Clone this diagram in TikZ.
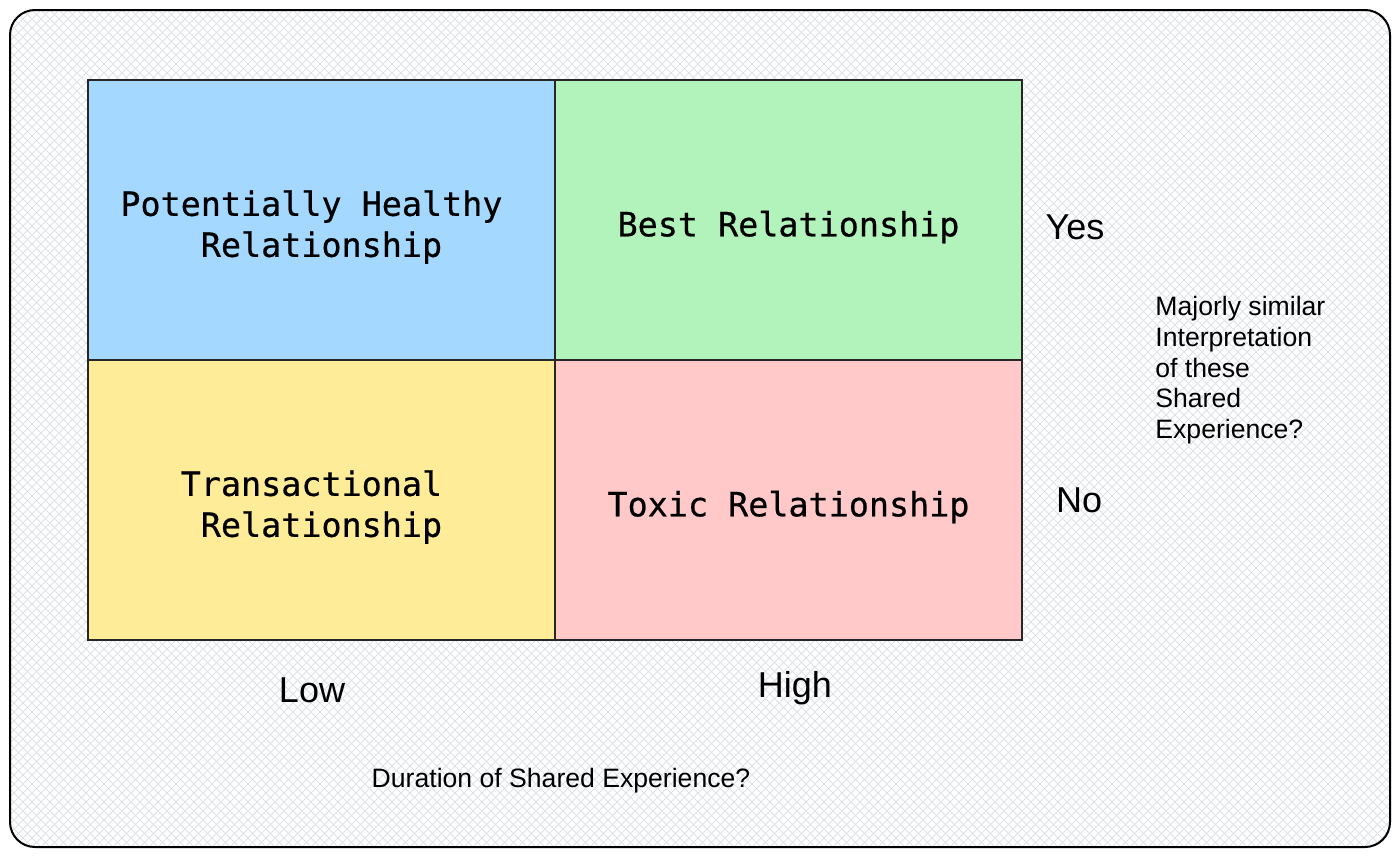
\documentclass[tikz,border=0pt]{standalone}
\usepackage{fontspec}
\setmainfont{Liberation Sans}
\newfontfamily\monofont[FakeBold=0.6]{DejaVu Sans Mono}
\usetikzlibrary{positioning}

\definecolor{cellblue}{HTML}{A5D8FF}
\definecolor{cellgreen}{HTML}{B2F2BB}
\definecolor{cellyellow}{HTML}{FFEC99}
\definecolor{cellred}{HTML}{FFC9C9}
\definecolor{hatch}{HTML}{DFE2E6}
\def\cellstrut{\rule{0pt}{19.8pt}}

\begin{document}
\begin{tikzpicture}[x=0.5pt,y=-0.5pt,
  cell/.style={draw=black!85,line width=1pt,fill=#1,minimum width=233.5pt,
    minimum height=140pt,inner sep=0pt,outer sep=0pt,align=center,
    font=\monofont\fontsize{16.7}{20.5}\selectfont},
  axis/.style={font=\fontsize{18}{21}\selectfont},
  note/.style={font=\fontsize{13.3}{15.35}\selectfont,align=left,inner sep=0pt}]
\useasboundingbox (0,0) rectangle (1400,857);
% Frame with a cross-hatched paper background
\begin{scope}
  \clip[rounded corners=12.5pt] (10,10) rectangle (1390,847);
  \fill[white] (0,0) rectangle (1400,857);
  \foreach \i in {-860,-851,...,1400} {
    \draw[hatch,line width=0.45pt] (\i,0) -- (\i+857,857);
    \draw[hatch,line width=0.45pt] (\i+857,0) -- (\i,857);
  }
\end{scope}
\draw[line width=1pt,rounded corners=12.5pt] (10,10) rectangle (1390,847);
% The four quadrants
\node[cell=cellblue,anchor=north west] (healthy) at (88,80)
  {\cellstrut Potentially Healthy\phantom{x}\\Relationship};
\node[cell=cellgreen,right=0pt of healthy] (best)
  {\cellstrut Best Relationship};
\node[cell=cellyellow,below=0pt of healthy] (trans)
  {\cellstrut Transactional\phantom{x}\\Relationship};
\node[cell=cellred,right=0pt of trans] (toxic)
  {\cellstrut Toxic Relationship};
% Axis values
\node[axis] (yes) at (1075,227) {Yes};
\node[axis] (no) at (1079,500) {No};
\node[axis] (low) at (312,690) {Low};
\node[axis] (high) at (795,688) {High};
% Axis questions
\node[note,anchor=north west] (interp) at (1155,296)
  {Majorly similar\\Interpretation\\of these\\Shared\\Experience?};
\node[note] (duration) at (561,781) {Duration of Shared Experience?};
\end{tikzpicture}
\end{document}
